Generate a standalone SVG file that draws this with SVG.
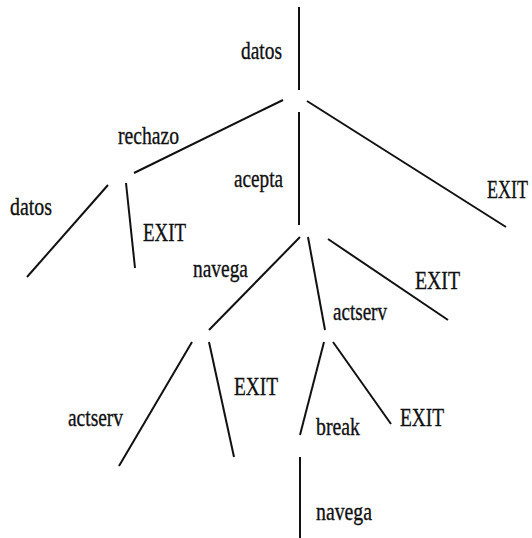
<svg xmlns="http://www.w3.org/2000/svg" width="532" height="538" viewBox="0 0 532 538">
<style>
.e{stroke:#111;stroke-width:2;stroke-linecap:butt;fill:none}
text{font-family:"Liberation Serif","Times New Roman",serif;font-size:25px;fill:#111;stroke:#111;stroke-width:0.35}
</style>
<rect width="532" height="538" fill="#fff"/>
<g id="connectors">
<line class="e" x1="299" y1="7" x2="299" y2="90"/>
<line class="e" x1="283" y1="100" x2="134" y2="173"/>
<line class="e" x1="299" y1="112" x2="299" y2="225"/>
<line class="e" x1="307" y1="101" x2="506" y2="227"/>
<line class="e" x1="108" y1="185" x2="27" y2="277"/>
<line class="e" x1="126" y1="183" x2="135" y2="268"/>
<line class="e" x1="300" y1="237" x2="209" y2="330"/>
<line class="e" x1="308" y1="237" x2="325" y2="330"/>
<line class="e" x1="328" y1="239" x2="448" y2="320"/>
<line class="e" x1="192" y1="342" x2="119" y2="466"/>
<line class="e" x1="209" y1="342" x2="234" y2="457"/>
<line class="e" x1="324" y1="342" x2="300" y2="435"/>
<line class="e" x1="333" y1="342" x2="391" y2="424"/>
<line class="e" x1="300" y1="457" x2="300" y2="538"/>
</g>
<g id="labels">
<g id="n-datos-top"><text x="241" y="59" textLength="41" lengthAdjust="spacingAndGlyphs">datos</text></g>
<g id="n-rechazo"><text x="118" y="144" textLength="61" lengthAdjust="spacingAndGlyphs">rechazo</text></g>
<g id="n-acepta"><text x="234" y="187" textLength="49" lengthAdjust="spacingAndGlyphs">acepta</text></g>
<g id="n-exit-1"><text x="0" y="0" transform="translate(487,198) scale(0.72,1)">EXIT</text></g>
<g id="n-datos-left"><text x="10" y="215" textLength="42" lengthAdjust="spacingAndGlyphs">datos</text></g>
<g id="n-exit-2"><text x="143" y="241" textLength="43" lengthAdjust="spacingAndGlyphs">EXIT</text></g>
<g id="n-navega-1"><text x="193" y="277" textLength="55" lengthAdjust="spacingAndGlyphs">navega</text></g>
<g id="n-exit-3"><text x="415" y="289" textLength="45" lengthAdjust="spacingAndGlyphs">EXIT</text></g>
<g id="n-actserv-1"><text x="333" y="320" textLength="54" lengthAdjust="spacingAndGlyphs">actserv</text></g>
<g id="n-exit-4"><text x="234" y="395" textLength="44" lengthAdjust="spacingAndGlyphs">EXIT</text></g>
<g id="n-actserv-2"><text x="68" y="426" textLength="55" lengthAdjust="spacingAndGlyphs">actserv</text></g>
<g id="n-break"><text x="316" y="435" textLength="44" lengthAdjust="spacingAndGlyphs">break</text></g>
<g id="n-exit-5"><text x="400" y="426" textLength="44" lengthAdjust="spacingAndGlyphs">EXIT</text></g>
<g id="n-navega-2"><text x="316" y="520" textLength="56" lengthAdjust="spacingAndGlyphs">navega</text></g>
</g>
</svg>
